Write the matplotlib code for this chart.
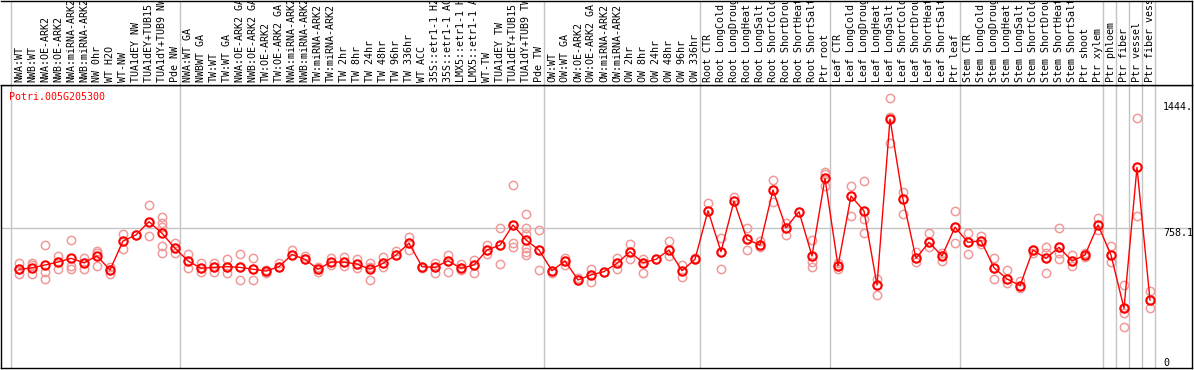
import matplotlib
matplotlib.use('Agg')
import matplotlib.pyplot as plt
import matplotlib.transforms as mtransforms

# --- datos ---
gene = 'Potri.005G205300'

labels = [
    'NWA:WT', 'NWB:WT', 'NWA:OE-ARK2', 'NWB:OE-ARK2', 'NWA:miRNA-ARK2',
    'NWB:miRNA-ARK2', 'NW 0hr', 'WT H2O', 'WT-NW', 'TUA1dEY NW',
    'TUA1dEY+TUB15 NW', 'TUA1dY+TUB9 NW', 'Pde NW',
    'NWA:WT GA', 'NWBWT GA', 'TW:WT', 'TW:WT GA', 'NWA:OE-ARK2 GA',
    'NWB:OE-ARK2 GA', 'TW:OE-ARK2', 'TW:OE-ARK2 GA', 'NWA:miRNA-ARK2 GA',
    'NWB:miRNA-ARK2 GA', 'TW:miRNA-ARK2', 'TW:miRNA-ARK2', 'TW 2hr', 'TW 8hr',
    'TW 24hr', 'TW 48hr', 'TW 96hr', 'TW 336hr', 'WT ACC', '35S::etr1-1 H2O',
    '35S::etr1-1 ACC', 'LMX5::etr1-1 H2O', 'LMX5::etr1-1 ACC', 'WT-TW',
    'TUA1dEY TW', 'TUA1dEY+TUB15 TW', 'TUA1dY+TUB9 TW', 'Pde TW',
    'OW:WT', 'OW:WT GA', 'OW:OE-ARK2', 'OW:OE-ARK2 GA', 'OW:miRNA-ARK2',
    'OW:miRNA-ARK2', 'OW 2hr', 'OW 8hr', 'OW 24hr', 'OW 48hr', 'OW 96hr',
    'OW 336hr',
    'Root CTR', 'Root LongCold', 'Root LongDrought', 'Root LongHeat',
    'Root LongSalt', 'Root ShortCold', 'Root ShortDrought', 'Root ShortHeat',
    'Root ShortSalt', 'Ptr root',
    'Leaf CTR', 'Leaf LongCold', 'Leaf LongDrought', 'Leaf LongHeat',
    'Leaf LongSalt', 'Leaf ShortCold', 'Leaf ShortDrought', 'Leaf ShortHeat',
    'Leaf ShortSalt', 'Ptr leaf',
    'Stem CTR', 'Stem LongCold', 'Stem LongDrought', 'Stem LongHeat',
    'Stem LongSalt', 'Stem ShortCold', 'Stem ShortDrought', 'Stem ShortHeat',
    'Stem ShortSalt', 'Ptr shoot', 'Ptr xylem',
    'Ptr phloem', 'Ptr fiber', 'Ptr vessel', 'Ptr fiber vessel',
]

means = [
    536, 543, 559, 575, 595, 571, 608, 532, 689, 722, 794, 731, 650,
    581, 541, 546, 550, 546, 536, 526, 550, 615, 590, 536, 575, 575, 564,
    536, 568, 613, 677, 550, 546, 582, 541, 559, 640, 667, 776, 695, 640,
    528, 581, 478, 505, 523, 568, 631, 571, 590, 640, 528, 590,
    854, 631, 906, 698, 667, 966, 761, 848, 608, 1029,
    554, 933, 852, 450, 1351, 915, 595, 682, 608, 764,
    682, 691, 544, 483, 447, 640, 595, 655, 581, 613, 776,
    613, 324, 1089, 369,
]

replicates = [
    [568, 536, 508], [568, 559, 508], [667, 523, 483], [608, 575, 536],
    [695, 553, 536], [595, 571, 536], [637, 626, 553], [550, 532, 508],
    [727, 689, 646], [722], [885, 794, 716], [821, 785, 767, 664, 626],
    [677, 650, 626],
    [619, 581, 541], [568, 541, 523], [571, 546, 523], [590, 550, 514],
    [619, 546, 478], [595, 536, 478], [532, 526, 517], [571, 550],
    [640, 615], [608, 590], [546, 536, 523], [595, 575, 559],
    [601, 575, 553], [590, 564, 541], [570, 546, 478], [604, 568, 546],
    [637, 613], [713, 677, 640], [550, 541], [571, 546, 517],
    [613, 582, 523], [564, 541, 532], [586, 559, 514], [667, 640, 619],
    [758, 667, 564], [993, 776, 677, 658], [836, 758, 727, 650, 631, 613],
    [749, 640, 532],
    [528, 514], [595, 581, 559], [487, 478], [536, 505, 468], [523],
    [595, 568, 536], [673, 631, 590], [590, 571, 517], [590],
    [691, 640, 608], [559, 528, 495], [595, 590],
    [894, 854], [704, 631, 536], [930, 906], [758, 698, 640],
    [691, 667, 658], [1020, 966, 902], [785, 761, 722], [848],
    [695, 608, 577, 546], [1065, 1051, 988],
    [571, 554, 536], [988, 933, 825], [1015, 852, 807, 731],
    [481, 450, 396], [1464, 1364, 1223], [957, 915, 834], [631, 595, 577],
    [734, 682, 655], [626, 608, 581], [854, 764, 677],
    [731, 682, 619], [716, 691, 673], [595, 544, 481], [532, 483, 463],
    [472, 447, 432], [640, 626], [658, 626, 595, 517], [758, 655, 626, 590],
    [613, 581, 555], [622, 613, 604], [816, 776, 749],
    [662, 613, 577], [450, 324, 300, 221], [1355, 1089, 825], [418, 369, 324],
]

# columnas donde empieza cada grupo (lineas grises)
group_starts = [0, 13, 41, 53, 63, 73, 84, 85, 86, 87, 88]
ref_value = 758.1
max_label = '1444.'
max_value = 1444

# --- figura ---
W, H = 1194, 370
fig = plt.figure(figsize=(W / 100, H / 100), dpi=100)
ax = fig.add_axes([1 / W, 2 / H, 1191 / W, 283 / H])
hax = fig.add_axes([1 / W, 285 / H, 1191 / W, 84 / H])

xlim = (-18 / 13, 1173 / 13)
for a in (ax, hax):
    a.set_xlim(*xlim)
    a.set_xticks([])
    a.set_yticks([])
    for s in a.spines.values():
        s.set_color('black')
        s.set_linewidth(1)
hax.spines['left'].set_visible(False)
ax.set_ylim(0, 283 / 0.18428)
hax.set_ylim(0, 84)

mono = 'DejaVu Sans Mono'
gray = '#c4c4c4'

for b in group_starts:
    ax.axvline(b - 0.6, color=gray, lw=1, zorder=0)
    hax.axvline(b - 0.6, color=gray, lw=1, zorder=0)
ax.axhline(ref_value, color=gray, lw=1, zorder=0)

# etiquetas rotadas (recortadas por el borde superior, como en el original)
for i, lab in enumerate(labels):
    hax.text(i, 3, lab, rotation=90, ha='center', va='bottom',
             family=mono, fontsize=7.2, clip_on=True)

# replicas
xs = list(range(len(means)))
for i, vals in enumerate(replicates):
    ax.plot([i] * len(vals), vals, 'o', ms=6, mfc='none', mec='#f09a9a',
            mew=1.1, zorder=2)

ax.plot(xs, means, '-', color='red', lw=1, zorder=3)
ax.plot(xs, means, 'o', ms=6, mfc='none', mec='red', mew=1.5, zorder=4)

# textos
fig.text(9 / W, 1 - 97 / H, gene, color='red', family=mono, fontsize=7.2,
         ha='left', va='center')
tr = mtransforms.blended_transform_factory(fig.transFigure, ax.transData)
ax.text(1163 / W, max_value, max_label, transform=tr, family=mono,
        fontsize=7.2, va='top', ha='left')
ax.text(1163 / W, ref_value, str(ref_value), transform=tr, family=mono,
        fontsize=7.2, va='top', ha='left')
ax.text(1163 / W, 0, '0', transform=tr, family=mono,
        fontsize=7.2, va='bottom', ha='left')

fig.savefig('out.png', dpi=100)
